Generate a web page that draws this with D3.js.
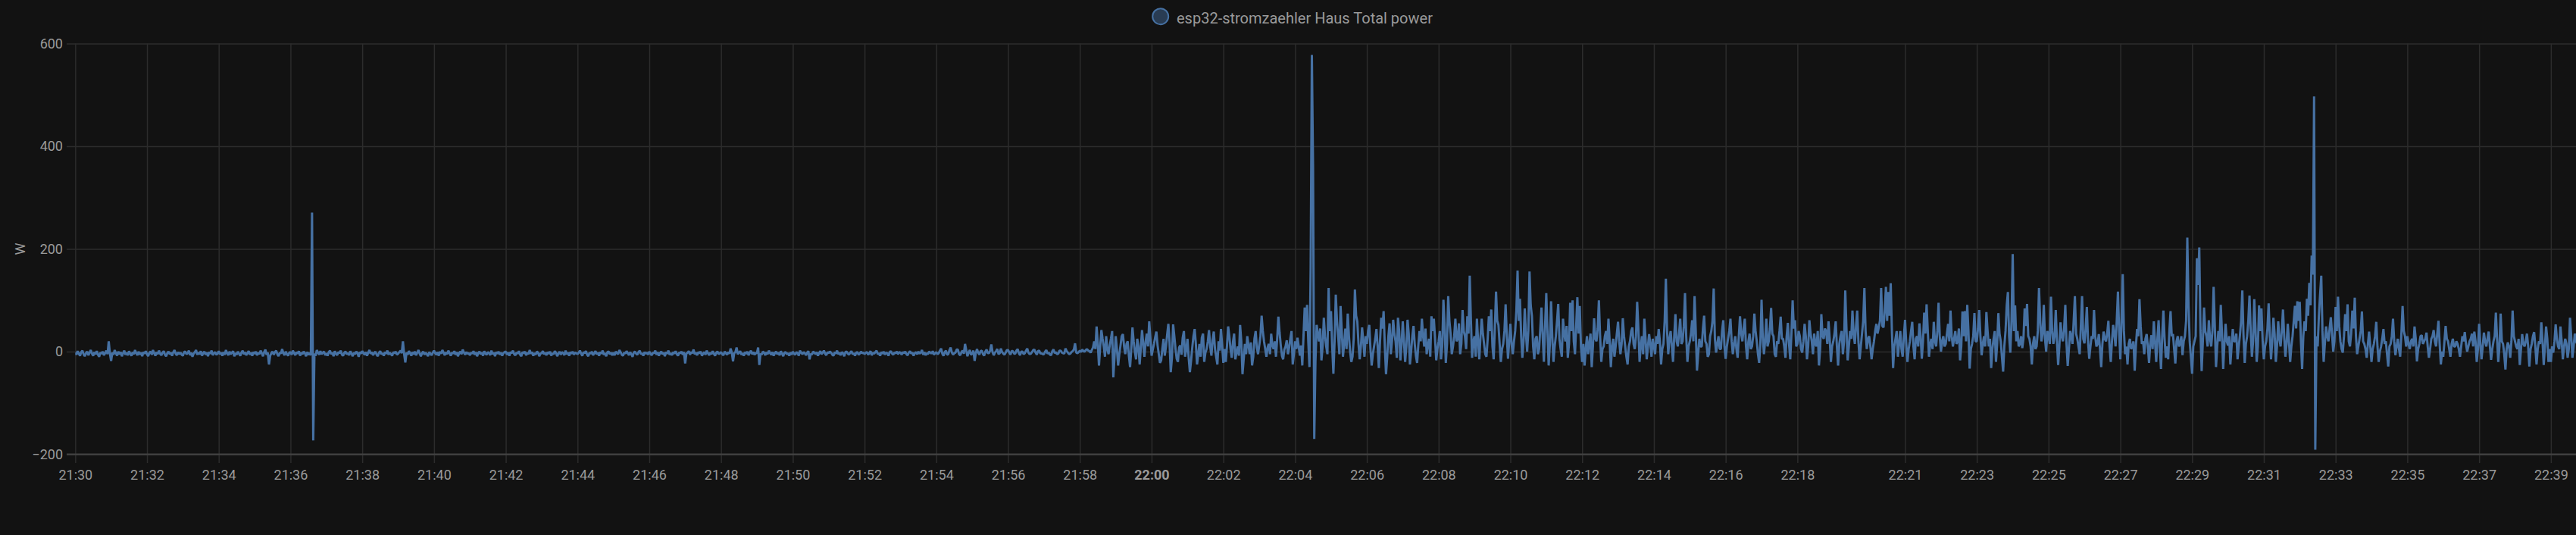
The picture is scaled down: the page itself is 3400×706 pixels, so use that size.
<!DOCTYPE html>
<html><head><meta charset="utf-8">
<script src="https://cdn.jsdelivr.net/npm/d3@7"></script>
<style>html,body{margin:0;padding:0;background:#121212;}svg{display:block;}</style>
</head><body>
<svg id="chart" width="3400" height="706"></svg>
<script>
// ---- data (W, one sample every 2 s, one row per minute) ----
const seriesName = "esp32-stromzaehler Haus Total power";
const yUnit = "W";
const blockStarts = ["21:30:00","21:40:00","21:50:00","22:00:00","22:10:00","22:20:00","22:30:00"];
const blockStepSeconds = [2, 2, 2, 2, 2, 2, 2];
const w2130 = [
 -2,-6,1,-4,-8,-1,2,-5,-9,-3,0,-7,-2,3,-4,-8,-1,-5,1,-6,-10,-2,-4,0,-7,-3,2,-5,20,-4,
 -18,-2,-6,3,-3,-8,0,-5,-1,-9,-3,2,-6,-2,-7,1,-4,-8,-1,-5,3,-3,-7,0,-6,-2,-9,-1,-4,1,
 -5,-9,-2,0,-6,3,-3,-8,-1,-5,2,-4,-7,-2,1,-6,-9,-3,0,-5,-2,-8,-1,3,-4,-7,-1,-5,-2,-6,
 -8,-1,0,-5,-3,2,-7,-2,-10,-4,-1,3,-6,-2,-5,1,-8,-3,0,-6,-2,-9,-1,-4,2,-7,-3,-1,-6,-4,
 1,-5,-2,-8,-1,-6,3,-3,-7,0,-5,-2,1,-9,-3,-6,0,-4,-8,-2,2,-5,-1,-7,-3,1,-6,-2,-8,-1,
 -4,0,-7,-2,-5,2,-3,-9,-1,4,-6,-2,-25,-8,-3,0,-6,-1,2,-5,-9,-2,-4,5,-3,-7,0,-5,-8,-2,
 -1,-6,2,-3,-7,-1,-4,1,-8,-2,-5,0,-3,-9,-1,-6,-3,-7,271,-173,-4,-8,3,-2,-6,1,-5,-2,0,-7,
 -3,-8,-1,2,-5,-2,-9,1,-4,-7,-1,-3,2,-6,-8,-2,0,-5,-3,-7,1,-4,-9,-2,-5,0,-3,-10,-1,-4,
 1,-3,-6,-1,-8,-2,3,-4,-1,-7,-3,0,-6,-9,-2,1,-5,-3,-8,-1,-4,2,-6,-2,-5,-8,-1,-3,0,-6,
 -4,-1,2,-3,20,-5,-21,-2,-6,1,-3,-8,-1,-5,0,-7,-2,3,-4,-9,-3,0,-6,-2,-5,-9,-1,-4,-7,-2];
const w2140 = [
 2,-3,-6,-1,-8,0,-4,3,-2,-7,-1,-5,2,-3,-8,-2,-4,1,-6,-1,-9,-3,0,-5,4,-2,-6,-1,-4,-3,
 -7,-2,-4,1,-6,-1,-9,-3,0,-5,-2,-8,1,-4,-6,-1,-3,-7,2,-5,-2,-9,-1,-4,0,-6,-2,-8,-3,-1,
 0,-6,-2,-8,-1,-3,2,-5,-7,-2,-4,1,-6,-9,-1,-3,0,-7,-2,-5,3,-4,-1,-8,-3,-6,0,-2,-9,-4,
 -3,1,-5,-2,-7,-1,-4,0,-8,-3,-5,1,-2,-9,-4,0,-6,-1,-3,-7,2,-5,-2,-8,-1,-4,0,-6,-2,-3,
 -5,-2,2,-4,-8,-1,-3,1,-6,-9,-2,-4,0,-7,-3,1,-5,-2,-8,-1,-4,2,-6,-3,-9,-1,0,-5,-2,-7,
 -2,-7,0,-3,-5,3,-1,-6,-8,-2,-4,1,-3,-7,-1,-5,-10,-2,0,-4,-6,-1,2,-5,-3,-8,-1,-4,-2,-6,
 0,-4,-7,-2,-3,2,-6,-1,-8,-3,0,-5,-2,-9,-1,-4,2,-6,-3,-7,-1,-4,1,-5,-8,-2,-3,0,-6,-1,
 -23,-4,-2,1,-6,-1,-3,4,-5,-2,-7,-1,-3,0,-8,-4,-1,-6,2,-3,-7,-2,-5,1,-4,-8,-2,0,-5,-3,
 -1,-5,-7,0,-3,-6,-1,-4,6,-2,-19,-3,-1,8,-5,-2,1,-6,-3,-8,-1,-4,0,-7,-2,2,-5,-1,-6,-3,
 -3,8,-26,-4,-6,0,-2,-7,-1,-5,2,-3,-6,-1,-8,-3,0,-5,-2,-7,1,-4,-9,-2,-1,-5,-3,-8,-2,-6];
const w2150 = [
 0,-4,-6,-1,-3,-8,2,-2,-5,-1,-3,-7,-2,1,-15,-4,-6,0,-2,-5,-1,-8,-3,1,-5,-2,2,-4,-7,-1,
 -3,0,-2,-6,-8,-1,-4,2,-5,-2,-7,-1,-3,-9,-1,0,-4,-6,-2,1,-5,-3,-8,-2,-1,-6,-4,0,-3,-2,
 -5,-2,-1,-6,-3,1,-7,-2,-4,-1,2,-5,-3,-8,-1,-4,0,-6,-2,-3,-8,-1,1,-4,-6,-2,-3,0,-5,-1,
 -2,-6,-1,-3,0,-5,-7,-2,1,-4,-2,-8,-3,-1,-5,0,-4,-2,3,-6,-1,-7,-3,-5,0,-2,-4,1,-6,-3,
 -1,-5,-3,2,6,-4,-8,-1,2,-6,-5,3,8,-2,-6,-3,-2,4,4,-5,-7,-1,2,-4,15,3,-9,-2,3,-6,
 -4,2,-18,-3,5,-2,-6,1,2,-5,-8,0,4,-3,-3,2,14,-1,-7,-2,1,5,-5,-3,6,-1,-4,-6,-2,3,
 3,-2,-6,1,1,-4,-4,2,5,-3,-7,0,0,-5,-3,2,6,-2,-5,-4,-1,3,4,-2,-6,1,2,-4,-3,-5,
 -5,0,3,-4,-2,-6,-7,1,4,-3,-1,-5,-4,2,2,-2,-3,-4,6,1,-2,-5,-4,-1,1,4,16,-2,-3,-1,
 2,-1,4,1,0,3,5,2,1,-2,3,8,20,5,49,15,-27,10,42,25,10,-10,30,5,-5,12,25,40,-50,-10,
 30,5,-27,-5,12,30,34,10,-5,15,20,-8,-30,5,47,20,0,-15,25,10,-25,8,42,15,-10,20,35,10,59,25];
const w2200 = [
 -8,4,15,28,39,12,-5,-22,-17,6,25,-8,10,33,54,18,-40,-12,53,30,5,-14,-20,8,12,-6,27,40,-10,5,
 25,-12,-40,-18,8,30,44,15,-25,-5,15,-10,27,35,-20,-2,5,20,42,10,-8,22,39,5,-10,-25,20,2,44,12,
 -22,5,-20,10,49,30,5,-12,18,35,-15,-2,10,-8,52,20,-44,-15,15,-5,30,12,-5,18,-27,-10,25,40,8,-5,
 12,30,70,40,20,5,-10,8,15,-5,35,12,5,20,-10,25,68,38,12,-8,-15,4,10,22,-5,8,25,40,-25,-5,
 20,5,27,10,-8,12,-27,30,86,40,91,20,-30,165,578,358,-170,-20,52,35,20,45,-17,10,66,30,10,-5,124,40,
 79,10,-43,20,111,60,30,-5,89,40,-10,15,45,5,74,30,0,-20,-10,25,121,70,59,15,-15,10,47,20,-10,30,
 15,40,52,5,-27,-5,10,25,44,10,-32,20,66,45,79,10,-44,-10,30,55,-5,20,62,35,20,-12,66,40,-17,15,
 59,20,-20,10,62,35,-25,0,30,50,15,-8,-22,12,40,20,64,30,10,45,-5,12,25,-10,69,40,64,25,-17,5,
 20,40,-15,10,101,50,-22,15,108,60,35,-5,10,30,64,20,25,55,-5,15,81,40,30,5,69,35,148,60,-12,20,
 30,-10,64,20,-15,30,64,35,15,-5,-10,25,69,40,82,10,-15,45,117,60,52,15,-20,5,15,40,92,30,-14,20];
const w2210 = [
 54,15,-5,20,40,80,158,60,103,30,-12,20,84,35,0,40,156,90,69,10,-15,25,30,-5,5,45,86,30,-20,50,
 114,40,-27,15,98,30,-20,10,30,60,93,25,5,-10,64,35,20,50,-12,15,95,40,100,20,-5,50,106,35,89,10,
 -20,15,-27,5,30,-5,15,35,-30,10,65,25,20,45,100,30,-20,5,10,30,40,15,64,20,-30,10,25,-10,10,35,
 58,20,-5,15,65,30,10,-10,-25,10,20,40,47,15,5,30,97,45,-20,10,30,-5,64,25,-15,10,34,15,-10,25,
 10,-5,30,15,44,20,-25,5,15,60,142,40,-5,25,40,10,-20,30,73,20,10,35,64,15,20,50,114,30,-20,10,
 20,35,61,20,108,40,-37,-5,25,10,10,45,70,20,15,-10,-5,30,40,60,123,25,-2,15,30,5,5,40,61,10,
 -14,10,25,40,64,20,-5,15,30,5,-12,30,69,35,20,45,64,10,-15,20,35,5,10,30,74,40,20,-5,-22,15,
 101,30,-5,20,64,10,20,45,85,35,30,-5,-10,20,15,40,68,25,25,10,-12,30,56,15,-15,35,100,45,61,10,
 15,40,30,5,-2,20,54,30,-15,10,61,35,20,-5,35,15,10,40,-27,5,73,30,25,45,40,15,59,25,-20,10,
 20,35,59,10,-27,15,30,40,-5,20,119,45,-17,10,40,25,80,35,15,50,80,20,-15,10,35,60,124,40,5,25];
const w2220 = [
 30,10,-15,5,20,40,54,35,47,60,124,50,47,80,126,60,116,70,133,40,-32,10,25,40,-10,15,40,5,-10,30,
 62,15,-20,5,20,40,58,10,-15,25,30,10,55,30,-14,20,76,35,92,40,-10,15,25,5,58,20,10,40,95,30,
 0,20,30,10,15,35,54,20,80,30,10,25,40,15,20,45,-17,10,78,30,79,20,91,40,-33,5,15,30,75,20,
 20,45,81,30,-7,15,30,10,77,40,10,25,-32,5,25,40,-20,15,75,35,20,-10,-39,10,40,90,116,30,-2,60,
 190,40,90,20,40,10,15,30,7,25,84,50,93,30,25,10,-25,15,30,5,10,40,124,60,20,35,91,25,0,40,
 30,15,107,40,15,30,81,20,-26,10,57,30,20,45,91,15,-28,5,40,30,15,60,108,35,25,10,-5,50,108,25,
 16,45,87,20,-14,10,30,25,81,30,10,15,34,5,-30,15,39,25,20,35,60,10,-20,20,52,35,10,60,117,40,
 -15,60,151,40,-5,10,-25,15,25,5,10,20,-37,10,44,30,102,50,15,20,-5,25,34,10,-22,15,32,5,59,20,
 -20,25,61,10,-34,30,80,25,-12,10,-15,40,79,30,34,5,-23,20,30,10,15,30,-7,20,30,60,222,90,20,-10,
 -43,10,20,30,182,130,203,40,-38,20,86,40,30,10,61,25,10,40,126,50,-30,10,40,20,91,35,-34,15,54,20];
const w2230 = [
 12,30,-25,10,44,20,20,35,-15,10,32,60,119,30,-22,15,30,60,109,40,-10,20,102,45,-20,10,90,40,84,20,
 -15,10,20,45,94,30,-15,20,66,35,-20,10,59,25,10,40,82,30,-10,15,54,20,-20,10,30,60,89,45,98,60,
 97,20,-34,30,59,40,103,70,134,90,187,150,497,-191,30,10,69,110,148,40,-20,15,49,30,20,45,67,35,0,20,
 87,40,107,50,20,5,-2,30,73,40,92,20,10,35,80,45,105,30,-5,10,25,40,78,20,15,5,-12,15,39,10,
 -20,5,15,30,58,10,-20,0,10,25,44,15,20,-5,-29,10,15,30,64,20,-7,10,25,5,-10,35,89,40,30,10,
 30,15,5,20,25,10,49,25,-19,5,15,30,32,15,20,25,37,10,-12,5,25,30,42,20,10,35,60,15,-25,0,
 -10,20,50,25,20,5,-10,15,25,10,10,20,15,5,-10,10,30,20,38,15,0,10,20,25,35,10,39,20,-20,5,
 54,15,-15,10,37,20,10,25,39,10,-16,5,20,30,76,25,-20,10,74,20,15,-5,-35,5,18,10,-12,20,80,30,
 20,10,5,25,-26,5,34,15,10,20,35,10,-29,5,15,30,38,10,-25,5,20,15,57,20,-26,10,49,25,-20,5,
 -20,10,-2,20,53,25,10,5,49,20,-15,10,25,15,-12,5,66,30,-12,10,35,20,15,10];
const blocks = [w2130, w2140, w2150, w2200, w2210, w2220, w2230];

const xDomain = ["21:30:00", "22:39:42"];
const xTickLabels = ["21:30","21:32","21:34","21:36","21:38","21:40","21:42","21:44","21:46","21:48",
 "21:50","21:52","21:54","21:56","21:58","22:00","22:02","22:04","22:06","22:08","22:10","22:12",
 "22:14","22:16","22:18","22:21","22:23","22:25","22:27","22:29","22:31","22:33","22:35","22:37","22:39"];
const boldTickLabels = ["22:00"];
const yTicks = [-200, 0, 200, 400, 600];
const yDomain = [-200, 600];

// ---- build ----
const parseT = d3.timeParse("%H:%M:%S");
const parseHM = d3.timeParse("%H:%M");
const data = [];
blocks.forEach((arr, b) => {
  const t0 = parseT(blockStarts[b]);
  arr.forEach((v, i) => data.push({t: d3.timeSecond.offset(t0, i * blockStepSeconds[b]), v}));
});

const W = 3400, H = 706;
const pL = 99.3, pR = 3400, pT = 57.5, pB = 599.5;
const x = d3.scaleTime().domain(xDomain.map(parseT)).range([pL, pR]);
const y = d3.scaleLinear().domain(yDomain).range([pB, pT]);

const svg = d3.select("#chart");
svg.append("rect").attr("width", W).attr("height", H).attr("fill", "#121212");

const gridColor = "#2c2c2c";
const textColor = "#9a9a9a";
const font = "Roboto, 'Noto Sans', sans-serif";

// y axis + horizontal grid
const yAxis = d3.axisLeft(y).tickValues(yTicks).tickSizeInner(-(pR - 88)).tickSizeOuter(0).tickPadding(5);
const gy = svg.append("g").attr("transform", "translate(88,0)").call(yAxis);
gy.select(".domain").remove();
gy.selectAll(".tick line").attr("stroke", gridColor).attr("stroke-width", 1.5);
gy.selectAll(".tick text").attr("fill", textColor).style("font-family", font).style("font-size", "18px");

// x axis + vertical grid
const tickDates = xTickLabels.map(parseHM);
const xAxis = d3.axisBottom(x).tickValues(tickDates).tickFormat(d3.timeFormat("%H:%M"))
  .tickSizeInner(-(611 - pT)).tickSizeOuter(0).tickPadding(9);
const gx = svg.append("g").attr("transform", "translate(0,611)").call(xAxis);
gx.select(".domain").remove();
gx.selectAll(".tick line").attr("stroke", gridColor).attr("stroke-width", 1.5);
gx.selectAll(".tick text").attr("fill", textColor).style("font-family", font).style("font-size", "18px")
  .style("font-weight", d => boldTickLabels.includes(d3.timeFormat("%H:%M")(d)) ? "bold" : "normal");

// bottom border
svg.append("line").attr("x1", 88).attr("x2", pR).attr("y1", y(yDomain[0])).attr("y2", y(yDomain[0]))
  .attr("stroke", "#444").attr("stroke-width", 2);

// y unit label
svg.append("text").attr("transform", `translate(32.5,${(pT + pB) / 2}) rotate(-90)`)
  .attr("text-anchor", "middle").attr("fill", textColor)
  .style("font-family", font).style("font-size", "18px").text(yUnit);

// line
svg.append("clipPath").attr("id", "clip").append("rect")
  .attr("x", pL).attr("y", 0).attr("width", pR - pL).attr("height", H);
const lineColor = "#4671a3";
svg.append("path").datum(data).attr("clip-path", "url(#clip)")
  .attr("fill", "none").attr("stroke", lineColor).attr("stroke-width", 3)
  .attr("stroke-linejoin", "bevel")
  .attr("d", d3.line().x(d => x(d.t)).y(d => y(d.v)));

// legend
const lg = svg.append("g");
lg.append("circle").attr("cx", 1531.7).attr("cy", 21.7).attr("r", 10.5)
  .attr("fill", "rgba(70,113,163,0.45)").attr("stroke", lineColor).attr("stroke-width", 2);
lg.append("text").attr("x", 1553).attr("y", 30.5).attr("fill", textColor)
  .style("font-family", font).style("font-size", "20px").text(seriesName);
</script>
</body></html>
